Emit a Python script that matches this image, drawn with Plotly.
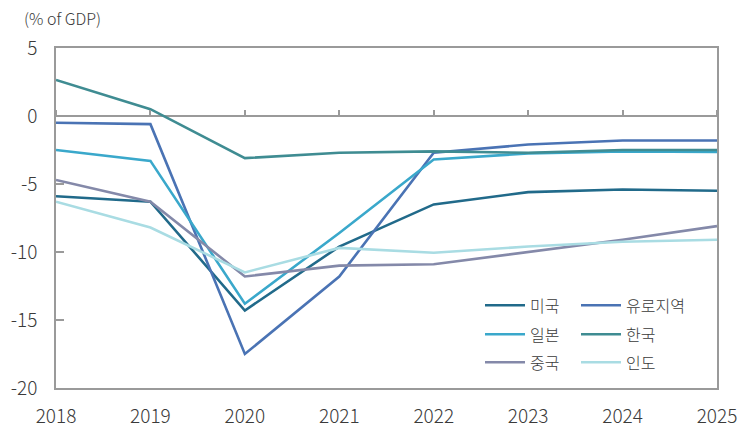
import plotly.graph_objects as go

# Fiscal balance, % of GDP
years = [2018, 2019, 2020, 2021, 2022, 2023, 2024, 2025]
us = [-5.9, -6.3, -14.3, -9.6, -6.5, -5.6, -5.4, -5.5]
euro = [-0.5, -0.6, -17.5, -11.8, -2.7, -2.1, -1.8, -1.8]
japan = [-2.5, -3.3, -13.8, -8.6, -3.2, -2.75, -2.6, -2.65]
korea = [2.65, 0.5, -3.1, -2.7, -2.6, -2.7, -2.5, -2.5]
china = [-4.7, -6.3, -11.8, -11.0, -10.9, -10.0, -9.1, -8.1]
india = [-6.3, -8.2, -11.5, -9.7, -10.05, -9.6, -9.25, -9.1]

y_ticks = [5, 0, -5, -10, -15, -20]
y_tick_labels = ["5", "0", "-5", "-10", "-15", "-20"]

series = [
    ("미국", us, "#216a8a"),
    ("유로지역", euro, "#4a73b4"),
    ("일본", japan, "#3aa8cb"),
    ("한국", korea, "#3f8c92"),
    ("중국", china, "#8489a9"),
    ("인도", india, "#a9dce3"),
]

font_cjk = "Noto Sans CJK KR"
axis_grey = "#9a9a9a"
text_col = "#3a3a3a"

# plot area in pixels
W, H = 739, 427
ML, MR, MT, MB = 56, 22, 48, 39
PW, PH = W - ML - MR, H - MT - MB

y_min, y_max = -20, 5

# legend grid: two columns, three rows
col_px = [480, 576]
row_px = [303, 332, 360]

fig = go.Figure()
legend_layout = {}
for i, (name, vals, color) in enumerate(series):
    key = "legend" if i == 0 else f"legend{i + 1}"
    fig.add_trace(go.Scatter(
        x=years, y=vals, name=name, mode="lines",
        line=dict(color=color, width=2.6),
        legend=key,
    ))
    col, row = i % 2, i // 2
    legend_layout[key] = dict(
        x=(col_px[col] - ML) / PW,
        y=(MT + PH - (row_px[row] - 14.6)) / PH,
        xanchor="left", yanchor="top",
        bgcolor="rgba(0,0,0,0)",
        font=dict(family=font_cjk, size=16, color=text_col, weight=300),
        itemwidth=40,
    )

tick_font = dict(family=font_cjk, size=19, color=text_col, weight=300)

fig.update_layout(
    width=W, height=H,
    margin=dict(l=ML, r=MR, t=MT, b=MB),
    paper_bgcolor="white", plot_bgcolor="white",
    font=dict(family=font_cjk, size=17, color=text_col),
    xaxis=dict(
        range=[2018, 2025], tickvals=years, showgrid=False,
        showline=True, linecolor=axis_grey, linewidth=1.5, mirror=True,
        ticks="", zeroline=False, automargin=False,
        tickfont=tick_font, ticklabelstandoff=10,
    ),
    # tick marks along the zero line
    xaxis2=dict(
        range=[2018, 2025], tickvals=years, overlaying="x",
        anchor="free", position=(0 - y_min) / (y_max - y_min), side="top",
        ticks="outside", ticklen=6, tickcolor=axis_grey, tickwidth=1.5,
        showticklabels=False, showgrid=False, showline=False, zeroline=False,
        automargin=False,
    ),
    yaxis=dict(
        range=[y_min, y_max], tickvals=y_ticks, ticktext=y_tick_labels,
        showgrid=False,
        showline=True, linecolor=axis_grey, linewidth=1.5, mirror=True,
        ticks="inside", ticklen=8, tickcolor=axis_grey, tickwidth=1.5,
        zeroline=True, zerolinecolor=axis_grey, zerolinewidth=1.5,
        tickfont=tick_font, ticklabelstandoff=13, automargin=False,
    ),
    annotations=[dict(
        text="(% of GDP)", xref="paper", yref="paper",
        x=(22 - ML) / PW, y=1 + 30 / PH, xanchor="left", yanchor="middle",
        showarrow=False, font=dict(family=font_cjk, size=16, color=text_col, weight=300),
    )],
    **legend_layout,
)

# invisible trace so the zero-line tick axis renders
fig.add_trace(go.Scatter(x=[2018, 2025], y=[0, 0], xaxis="x2", mode="lines",
                         line=dict(width=0), showlegend=False, hoverinfo="skip"))

fig.write_html("out.html")
